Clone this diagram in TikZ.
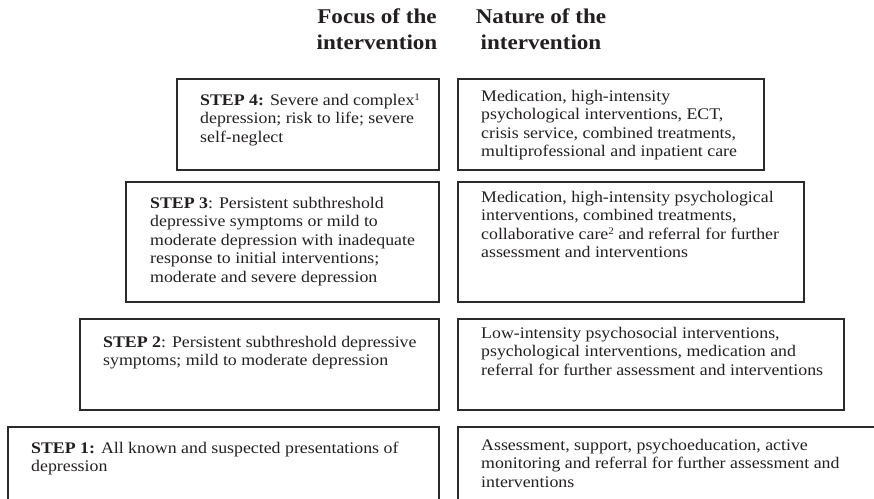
\documentclass[tikz,border=0pt]{standalone}
\usepackage{fontspec}
\setmainfont{Liberation Serif}[FakeStretch=1.1]
\definecolor{ink}{HTML}{231F20}
\definecolor{frame}{HTML}{2B2B2B}
\newcommand\lns[1]{\begin{tabular}[t]{@{}l@{}}#1\end{tabular}}
\newcommand\clns[1]{\begin{tabular}[t]{@{}c@{}}#1\end{tabular}}
\newcommand\fnm[1]{\raisebox{0.6ex}{\fontsize{10}{10}\selectfont #1}}
\tikzset{
  box/.style={draw=frame, line width=1.5pt, anchor=north west, inner sep=0pt},
  body/.style={anchor=base west, inner sep=0pt, text=ink,
    font=\fontsize{16.2}{18.5}\selectfont},
  head/.style={anchor=base, inner sep=0pt, text=ink,
    font=\fontsize{21}{26}\selectfont\bfseries},
}
\begin{document}
\begin{tikzpicture}[x=1pt,y=-1pt]
\useasboundingbox (0,0) rectangle (874,498);
\begin{scope}
\clip (0,0) rectangle (874,498);
% headings
\node[head] (hf) at (377,23) {\clns{Focus of the\\intervention}};
\node[head] (hn) at (541,23) {\clns{Nature of the\\intervention}};
% boxes
\node[box, minimum width=262pt, minimum height=91pt] (b4l) at (176,78) {};
\node[box, minimum width=306pt, minimum height=91pt] (b4r) at (457,78) {};
\node[box, minimum width=313pt, minimum height=120pt] (b3l) at (125,181) {};
\node[box, minimum width=346pt, minimum height=120pt] (b3r) at (457,181) {};
\node[box, minimum width=359pt, minimum height=91pt] (b2l) at (79,318) {};
\node[box, minimum width=386pt, minimum height=91pt] (b2r) at (457,318) {};
\node[box, minimum width=431pt, minimum height=90pt] (b1l) at (7,426) {};
\node[box, minimum width=430pt, minimum height=90pt] (b1r) at (457,426) {};
% texts
\node[body] (t4l) at (200,105) {\lns{\textbf{STEP 4:} Severe and complex\fnm{1}\\depression; risk to life; severe\\self-neglect}};
\node[body] (t4r) at (481,101) {\lns{Medication, high-intensity\\psychological interventions, ECT,\\crisis service, combined treatments,\\multiprofessional and inpatient care}};
\node[body] (t3l) at (150,208) {\lns{\textbf{STEP 3}: Persistent subthreshold\\depressive symptoms or mild to\\moderate depression with inadequate\\response to initial interventions;\\moderate and severe depression}};
\node[body] (t3r) at (481,202) {\lns{Medication, high-intensity psychological\\interventions, combined treatments,\\collaborative care\fnm{2} and referral for further\\assessment and interventions}};
\node[body] (t2l) at (103,347) {\lns{\textbf{STEP 2}: Persistent subthreshold depressive\\symptoms; mild to moderate depression}};
\node[body] (t2r) at (481,338) {\lns{Low-intensity psychosocial interventions,\\psychological interventions, medication and\\referral for further assessment and interventions}};
\node[body] (t1l) at (31,453) {\lns{\textbf{STEP 1:} All known and suspected presentations of\\depression}};
\node[body] (t1r) at (481,450) {\lns{Assessment, support, psychoeducation, active\\monitoring and referral for further assessment and\\interventions}};
\end{scope}
\end{tikzpicture}
\end{document}
